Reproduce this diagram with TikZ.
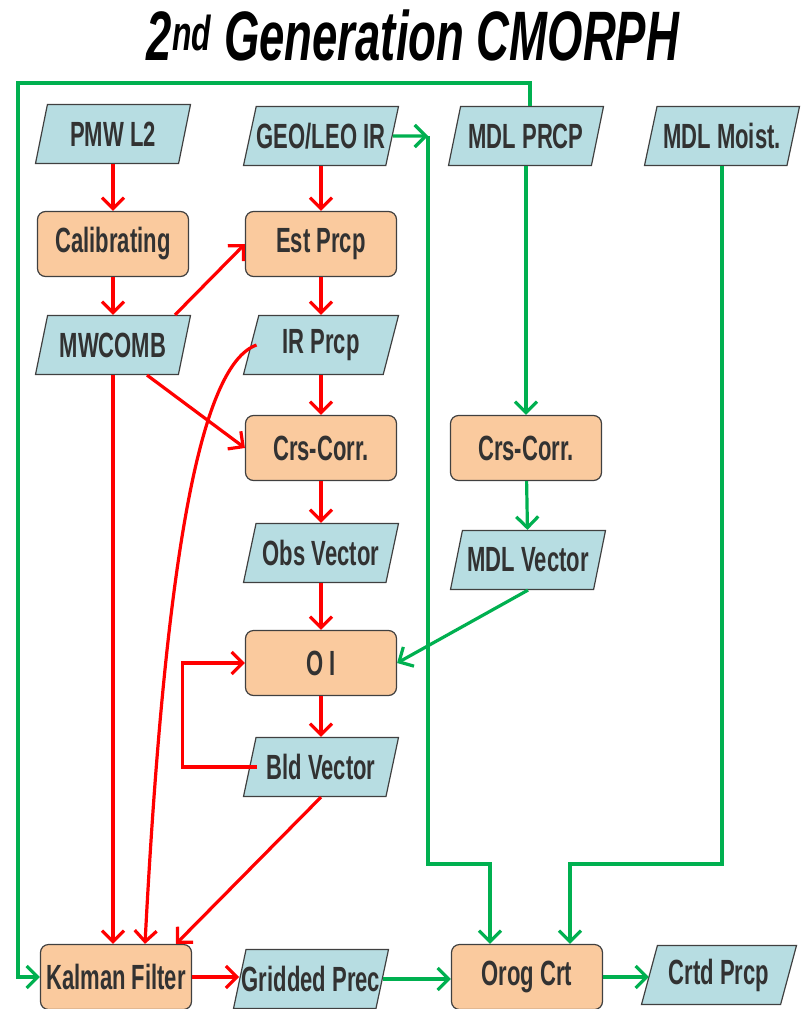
\documentclass[tikz,border=0pt]{standalone}
\usepackage{fontspec}
\setmainfont{Liberation Sans}
\newfontfamily\narrowfont[FakeStretch=0.63]{Liberation Sans}
\newfontfamily\titlefont[FakeStretch=0.65]{Liberation Sans}
\usetikzlibrary{shapes.geometric,arrows.meta,calc}

\definecolor{procfill}{RGB}{250,202,158}
\definecolor{datafill}{RGB}{183,221,226}
\definecolor{flowred}{RGB}{255,0,0}
\definecolor{flowgreen}{RGB}{0,176,80}
\definecolor{boxtext}{RGB}{50,50,50}
\def\dtxt#1{\makebox[0pt]{#1}}

\tikzset{
  boxfont/.style={font=\narrowfont\bfseries\fontsize{35}{40}\selectfont, text=boxtext},
  proc/.style={boxfont, draw=black!75, line width=1.2pt, fill=procfill,
    rounded corners=8pt, minimum width=151pt, minimum height=65pt, inner sep=0pt},
  data/.style={boxfont, trapezium, trapezium left angle=64, trapezium right angle=116,
    trapezium stretches body, draw=black!75, line width=1.2pt, fill=datafill,
    minimum width=155pt, minimum height=59pt, inner sep=0pt},
  red flow/.style={draw=flowred, line width=3.2pt, -{Straight Barb[length=11pt,width=22pt]}},
  green flow/.style={draw=flowgreen, line width=3.2pt, -{Straight Barb[length=11pt,width=22pt]}}
}

\begin{document}
\begin{tikzpicture}[x=1pt,y=-1pt]

\useasboundingbox (0,0) rectangle (802,1009);
\clip (0,0) rectangle (802,1009);

\node[anchor=base, font=\titlefont\bfseries\itshape\fontsize{70}{80}\selectfont]
  (title) at (413,60) {2\textsuperscript{nd} Generation CMORPH};

% inputs
\node[data] (pmw)  at (113,134) {\dtxt{PMW L2}};
\node[data] (geo)  at (321,136) {\dtxt{GEO/LEO IR}};
\node[data] (mdlp) at (526,136) {\dtxt{MDL PRCP}};
\node[data] (mdlm) at (722,136) {\dtxt{MDL Moist.}};

% left part
\node[proc] (calib)  at (113,244) {Calibrating};
\node[data] (mwcomb) at (113,345) {\dtxt{MWCOMB}};

% middle column
\node[proc] (est)  at (321,244) {Est Prcp};
\node[data] (irp)  at (321,345) {\dtxt{IR Prcp}};
\node[proc] (crsl) at (321,448) {Crs-Corr.};
\node[data] (obs)  at (321,553) {\dtxt{Obs Vector}};
\node[proc] (oi)   at (321,663) {O I};
\node[data] (bld)  at (321,767) {\dtxt{Bld Vector}};

% model column
\node[proc] (crsr) at (526,448) {Crs-Corr.};
\node[data] (mdlv) at (528,560) {\dtxt{MDL Vector}};

% bottom row
\node[proc] (kal)  at (116,977) {Kalman Filter};
\node[data] (grid) at (311,979) {\dtxt{Gridded Prec}};
\node[proc] (orog) at (527,977) {Orog Crt};
\node[data] (crtd) at (719,975) {\dtxt{Crtd Prcp}};

\coordinate (geojoin) at (428,136);
\coordinate (topleft) at (18,83);
\coordinate (greenbus) at (0,864);

% satellite flow
\draw[red flow] (pmw) -- (calib);
\draw[red flow] (calib) -- (mwcomb);
\draw[red flow] (geo) -- (est);
\draw[red flow] ([xshift=62pt]mwcomb.north) -- (est.west);
\draw[red flow] (est) -- (irp);
\draw[red flow] (irp) -- (crsl);
\draw[red flow] ([xshift=34pt]mwcomb.south) -- (crsl.west);
\draw[red flow] (crsl) -- (obs);
\draw[red flow] (obs) -- (oi);
\draw[red flow] (oi) -- (bld);
\draw[red flow] ([xshift=8pt]bld.west) -- ++(-75,0) |- (oi.west);

% into the filter
\draw[red flow] (mwcomb.south) -- (mwcomb.south |- kal.north);
\draw[red flow] ([xshift=6pt]irp.west) .. controls (200,365) and (165,560) .. ([xshift=29pt]kal.north);
\draw[red flow] (bld.south) -- ([xshift=60pt]kal.north);
\draw[red flow] (kal.east) -- (kal.east -| grid.west);

% model flow
\draw[green flow] ([xshift=4pt]mdlp.north) |- (topleft) |- (kal.west);
\draw[green flow] (mdlp) -- (crsr);
\draw[green flow] (crsr) -- (mdlv);
\draw[green flow] (mdlv.south) -- (oi.east);
\draw[green flow] (geo.east) -- (geojoin);
\draw[green flow] (geojoin) -- (geojoin |- greenbus) -| ([xshift=-37pt]orog.north);
\draw[green flow] (mdlm.south) -- (mdlm.south |- greenbus) -| ([xshift=43pt]orog.north);
\draw[green flow] (grid.east) -- (grid.east -| orog.west);
\draw[green flow] (orog.east) -- (orog.east -| crtd.west);

\end{tikzpicture}
\end{document}
